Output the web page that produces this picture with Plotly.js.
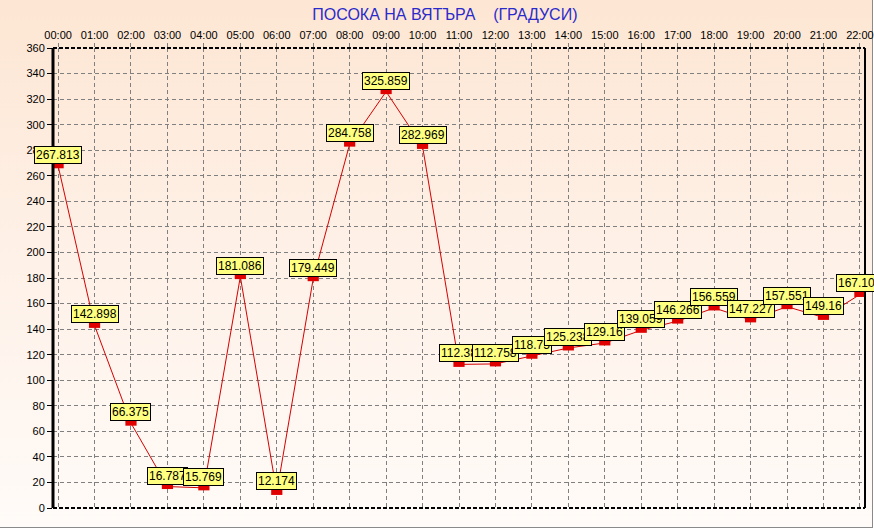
<!DOCTYPE html>
<html>
<head>
<meta charset="utf-8">
<script src="https://cdn.plot.ly/plotly-3.0.1.min.js"></script>
<style>
  html, body { margin: 0; padding: 0; background: #ffffff; }
  #frame { position: absolute; left: 0; top: 0; width: 872px; height: 527px;
           background: linear-gradient(to bottom, #fde6d3 0%, #fef0e6 45%, #fffbf8 100%);
           border-right: 1px solid #8a8a8a; border-bottom: 1px solid #8a8a8a; }
  #chart { position: absolute; left: 0; top: 0; width: 874px; height: 529px; }
</style>
</head>
<body>
<div id="frame"></div>
<div id="chart"></div>
<script>
const hours = ["00:00","01:00","02:00","03:00","04:00","05:00","06:00","07:00","08:00","09:00","10:00","11:00",
               "12:00","13:00","14:00","15:00","16:00","17:00","18:00","19:00","20:00","21:00","22:00"];
const direction = [267.813, 142.898, 66.375, 16.787, 15.769, 181.086, 12.174, 179.449, 284.758, 325.859, 282.969, 112.38,
                   112.758, 118.75, 125.238, 129.16, 139.059, 146.266, 156.559, 147.227, 157.551, 149.16, 167.109];
const yTicks = [0,20,40,60,80,100,120,140,160,180,200,220,240,260,280,300,320,340,360];
const titleText = "ПОСОКА НА ВЯТЪРА\u00a0\u00a0\u00a0\u00a0(ГРАДУСИ)";

const idx = hours.map((h, i) => i);

const traces = [
  { x: idx, y: direction, type: 'scatter', mode: 'lines',
    line: { color: '#d40000', width: 1 }, hoverinfo: 'skip' },
  { x: idx, y: direction, type: 'scatter', mode: 'markers',
    marker: { symbol: 'line-ew', size: 8, color: '#e00000', line: { width: 5, color: '#e00000' } },
    hoverinfo: 'skip' }
];

const annotations = direction.map((v, i) => ({
  x: i, y: v, xref: 'x', yref: 'y', text: String(v), showarrow: false,
  xanchor: 'center', yanchor: 'bottom', yshift: 2,
  bgcolor: '#ffff80', bordercolor: '#000000', borderwidth: 1, borderpad: 1,
  font: { family: 'Arial, Liberation Sans, sans-serif', size: 12, color: '#000000' }
}));

const shapes = [
  { type: 'line', xref: 'paper', yref: 'paper', x0: 0, x1: 1, y0: 1, y1: 1, line: { color: '#000', width: 2, dash: '4px,2px' } },
  { type: 'line', xref: 'paper', yref: 'paper', x0: 0, x1: 1, y0: 0, y1: 0, line: { color: '#000', width: 2, dash: '4px,2px' } },
  { type: 'line', xref: 'paper', yref: 'paper', x0: 1, x1: 1, y0: 0, y1: 1, line: { color: '#000', width: 2 } },
  { type: 'line', xref: 'paper', yref: 'paper', x0: 0, x1: 0, y0: 0, y1: 1, line: { color: '#000', width: 3 } }
];

const layout = {
  width: 874, height: 529,
  margin: { l: 53, r: 9, t: 48, b: 21 },
  paper_bgcolor: 'rgba(0,0,0,0)', plot_bgcolor: 'rgba(0,0,0,0)',
  showlegend: false,
  title: { text: titleText, x: 0.509, xanchor: 'center', y: 0.9735, yanchor: 'middle',
           font: { family: 'Arial, Liberation Sans, sans-serif', size: 16, color: '#2b2bcc' } },
  xaxis: {
    side: 'top', range: [-0.14, 22.14], tickmode: 'array', tickvals: idx, ticktext: hours,
    showgrid: true, gridcolor: '#808080', gridwidth: 1, griddash: '4px,3px',
    zeroline: false, showline: false, ticks: 'outside', ticklen: 4, tickcolor: '#808080',
    tickfont: { family: 'Arial, Liberation Sans, sans-serif', size: 11, color: '#000' },
    fixedrange: true
  },
  yaxis: {
    range: [0, 360], tickmode: 'array', tickvals: yTicks, ticktext: yTicks.map(String),
    showgrid: true, gridcolor: '#808080', gridwidth: 1, griddash: '4px,3px',
    zeroline: false, showline: false, ticks: 'outside', ticklen: 5, tickcolor: '#000',
    tickfont: { family: 'Arial, Liberation Sans, sans-serif', size: 11, color: '#000' },
    fixedrange: true
  },
  shapes: shapes,
  annotations: annotations
};

Plotly.newPlot('chart', traces, layout, { displayModeBar: false, staticPlot: true });
</script>
</body>
</html>
